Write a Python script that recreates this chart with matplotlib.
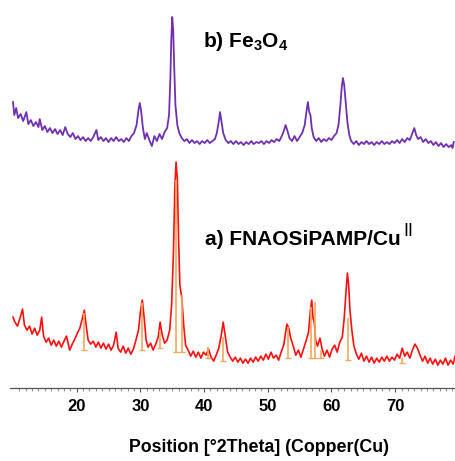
import matplotlib
matplotlib.use("Agg")
import matplotlib.pyplot as plt
from matplotlib.ticker import FixedLocator

plt.rcParams['font.family'] = ['Liberation Sans', 'DejaVu Sans']
plt.rcParams['mathtext.fontset'] = 'custom'
plt.rcParams['mathtext.rm'] = 'Liberation Sans'
plt.rcParams['mathtext.bf'] = 'Liberation Sans:bold'

# b) Fe3O4 pattern (2theta, intensity a.u.)
fe_x = [10.0, 10.2, 10.5, 10.8, 11.2, 11.6, 12.1, 12.4, 12.8, 13.2, 13.6, 14.0, 14.2, 14.6,
        15.0, 15.4, 15.8, 16.2, 16.6, 17.0, 17.4, 17.8, 18.2, 18.6, 19.0, 19.4, 19.8, 20.2,
        20.6, 21.0, 21.4, 21.8, 22.2, 22.6, 23.1, 23.4, 23.8, 24.2, 24.6, 25.0, 25.4, 25.8,
        26.2, 26.6, 27.0, 27.4, 27.8, 28.2, 28.6, 29.0, 29.4, 29.7, 29.9, 30.1, 30.4, 30.7,
        31.0, 31.4, 31.8, 32.2, 32.6, 33.0, 33.4, 33.8, 34.2, 34.5, 34.7, 34.85, 35.0, 35.15,
        35.3, 35.5, 35.8, 36.1, 36.5, 36.9, 37.3, 37.7, 38.1, 38.5, 38.9, 39.3, 39.7, 40.1,
        40.5, 40.9, 41.3, 41.7, 42.0, 42.3, 42.5, 42.7, 43.0, 43.4, 43.8, 44.2, 44.6, 45.0,
        45.4, 45.8, 46.2, 46.6, 47.0, 47.4, 47.8, 48.2, 48.6, 49.0, 49.4, 49.8, 50.2, 50.6,
        51.0, 51.4, 51.8, 52.2, 52.5, 52.8, 53.1, 53.4, 53.8, 54.2, 54.6, 55.0, 55.4, 55.8,
        56.1, 56.3, 56.5, 56.7, 56.9, 57.2, 57.6, 58.0, 58.4, 58.8, 59.2, 59.6, 60.0, 60.4,
        60.8, 61.1, 61.4, 61.6, 61.8, 62.0, 62.2, 62.5, 62.8, 63.1, 63.5, 63.9, 64.3, 64.7,
        65.1, 65.5, 65.9, 66.3, 66.7, 67.1, 67.5, 67.9, 68.3, 68.7, 69.1, 69.5, 69.9, 70.3,
        70.7, 71.1, 71.5, 71.9, 72.3, 72.7, 73.0, 73.3, 73.6, 74.0, 74.4, 74.8, 75.2, 75.6,
        76.0, 76.4, 76.8, 77.2, 77.6, 78.0, 78.4, 78.8, 79.0, 79.2]
fe_y = [286, 273, 280, 270, 274, 267, 276, 264, 268, 262, 266, 261, 269, 258,
        262, 256, 260, 255, 259, 254, 258, 253, 261, 254, 251, 255, 249, 252,
        248, 251, 247, 250, 247, 251, 258, 248, 251, 247, 250, 246, 250, 247,
        251, 247, 249, 246, 250, 247, 252, 255, 263, 278, 285, 278, 260, 249,
        255, 248, 242, 252, 247, 254, 249, 256, 260, 273, 308, 348, 371, 358,
        323, 283, 263, 255, 250, 247, 249, 245, 248, 245, 247, 244, 247, 245,
        248, 245, 247, 249, 255, 266, 276, 268, 255, 248, 245, 247, 244, 247,
        244, 246, 243, 246, 244, 247, 244, 246, 245, 247, 244, 247, 245, 248,
        246, 249, 247, 252, 257, 263, 257, 250, 247, 252, 247, 251, 255, 263,
        278, 286, 276, 273, 260, 251, 247, 250, 246, 249, 247, 250, 248, 252,
        255, 263, 283, 300, 310, 303, 288, 266, 253, 247, 244, 247, 243, 246,
        244, 247, 244, 246, 243, 246, 244, 247, 244, 246, 244, 247, 245, 248,
        245, 249, 246, 250, 248, 255, 260, 253, 249, 251, 246, 249, 245, 247,
        243, 246, 242, 245, 241, 244, 241, 243, 240, 246]

# a) FNAOSiPAMP/Cu(II) pattern
cu_x = [10.0, 10.3, 10.7, 11.1, 11.5, 11.8, 12.2, 12.6, 13.0, 13.4, 13.8, 14.2, 14.5, 14.8,
        15.2, 15.6, 16.0, 16.4, 16.8, 17.2, 17.6, 18.0, 18.4, 18.9, 19.3, 19.7, 20.1, 20.5,
        20.9, 21.2, 21.5, 21.8, 22.2, 22.6, 23.0, 23.4, 23.8, 24.2, 24.6, 25.0, 25.4, 25.8,
        26.2, 26.5, 26.9, 27.3, 27.7, 28.1, 28.5, 28.9, 29.3, 29.7, 30.0, 30.3, 30.6, 30.9,
        31.2, 31.6, 32.0, 32.4, 32.8, 33.1, 33.4, 33.8, 34.2, 34.6, 34.9, 35.2, 35.4, 35.6,
        35.8, 36.0, 36.2, 36.5, 36.8, 37.1, 37.5, 37.9, 38.3, 38.7, 39.1, 39.5, 39.9, 40.3,
        40.7, 41.1, 41.5, 41.9, 42.3, 42.7, 43.0, 43.3, 43.7, 44.1, 44.5, 44.9, 45.3, 45.7,
        46.1, 46.5, 46.9, 47.3, 47.7, 48.1, 48.5, 48.9, 49.3, 49.7, 50.1, 50.5, 50.9, 51.3,
        51.7, 52.1, 52.5, 52.8, 53.0, 53.3, 53.6, 54.0, 54.4, 54.8, 55.2, 55.6, 56.0, 56.4,
        56.7, 56.9, 57.1, 57.3, 57.5, 57.8, 58.2, 58.5, 58.9, 59.3, 59.7, 60.1, 60.5, 60.9,
        61.3, 61.7, 62.0, 62.3, 62.5, 62.7, 62.9, 63.2, 63.5, 63.9, 64.3, 64.7, 65.1, 65.5,
        65.9, 66.3, 66.7, 67.1, 67.5, 67.9, 68.3, 68.7, 69.1, 69.5, 69.9, 70.3, 70.7, 71.1,
        71.5, 71.9, 72.3, 72.7, 73.1, 73.5, 73.9, 74.3, 74.7, 75.1, 75.5, 75.9, 76.3, 76.7,
        77.1, 77.5, 77.9, 78.3, 78.7, 79.1, 79.4]
cu_y = [71, 66, 62, 70, 79, 63, 58, 62, 54, 60, 53, 58, 71, 52,
        46, 50, 43, 48, 42, 47, 41, 47, 52, 38, 44, 49, 55, 60,
        70, 78, 62, 48, 44, 47, 41, 46, 40, 45, 39, 44, 38, 43,
        56, 40, 36, 42, 35, 40, 34, 39, 48, 58, 76, 88, 70, 48,
        41, 45, 38, 44, 51, 66, 54, 45, 48, 58, 83, 138, 198, 226,
        210, 148, 103, 90, 63, 43, 38, 32, 37, 31, 36, 30, 36, 33,
        39, 31, 27, 33, 40, 53, 66, 53, 36, 31, 27, 31, 26, 30,
        25, 29, 25, 30, 26, 31, 27, 32, 28, 34, 29, 36, 30, 33,
        28, 36, 43, 56, 64, 60, 50, 42, 33, 38, 31, 39, 47, 56,
        78, 88, 70, 66, 48, 42, 50, 40, 32, 38, 31, 39, 43, 36,
        46, 51, 70, 98, 115, 103, 78, 58, 43, 34, 29, 35, 27, 32,
        26, 31, 25, 30, 26, 31, 27, 32, 27, 31, 28, 34, 30, 40,
        32, 36, 30, 38, 44, 40, 33, 27, 32, 25, 30, 24, 29, 23,
        28, 24, 30, 23, 28, 24, 32]

# reference pattern sticks (position, base, top)
ref_pos = [21.2, 30.3, 33.1, 35.6, 36.5, 40.6, 43.0, 53.1, 56.85, 57.35, 58.4, 62.65, 71.1]
ref_base = [38, 38, 40, 36, 36, 30, 27, 30, 30, 30, 30, 28, 25]
ref_top = [75, 85, 58, 208, 93, 41, 51, 61, 81, 86, 38, 70, 30]

fig = plt.figure(figsize=(4.56, 4.61), dpi=100)
ax = fig.add_axes([0.0, 0.158, 1.0, 0.842])

ax.plot(fe_x, fe_y, color='#7030b0', lw=1.3)
ax.plot(cu_x, cu_y, color='#ff1010', lw=1.2)
ax.vlines(ref_pos, ref_base, ref_top, color='#f7a85a', lw=1.4, alpha=0.85)
ax.plot(ref_pos, ref_base, ls='none', marker='_', ms=4, mew=1.0, color='#f7a85a')

ax.text(39.8, 347, r"b) Fe$_{\mathbf{3}}$O$_{\mathbf{4}}$", fontsize=15,
        fontweight='bold', ha='left', va='center')
t = ax.text(40.2, 149, "a) FNAOSiPAMP/Cu", fontsize=15,
            fontweight='bold', ha='left', va='center')

ax.set_xlim(7.96, 79.55)
ax.set_ylim(0, 388)
for s in ['left', 'right', 'top']:
    ax.spines[s].set_visible(False)
ax.spines['bottom'].set_bounds(9.5, 79.55)
ax.spines['bottom'].set_color('#555555')
ax.spines['bottom'].set_linewidth(0.9)
ax.set_yticks([])
ax.xaxis.set_major_locator(FixedLocator([20, 30, 40, 50, 60, 70]))
ax.xaxis.set_minor_locator(FixedLocator([v for v in range(10, 80) if v % 10]))
ax.tick_params(axis='x', which='major', length=3, width=0.8, color='#555555', pad=5,
               labelsize=12)
ax.tick_params(axis='x', which='minor', length=2, width=0.6, color='#777777')
for lab in ax.get_xticklabels():
    lab.set_fontweight('bold')

fig.text(259 / 456, 1 - 447 / 461, "Position [\u00b02Theta] (Copper(Cu)", fontsize=12.8,
         fontweight='bold', ha='center', va='center')

# superscript II placed right after the label
fig.canvas.draw()
bb = t.get_window_extent()
fig.text((bb.x1 + 2) / fig.bbox.width, (bb.y1 - 2) / fig.bbox.height, "II",
         fontsize=13, ha='left', va='center')

fig.savefig("out.png", dpi=100)
